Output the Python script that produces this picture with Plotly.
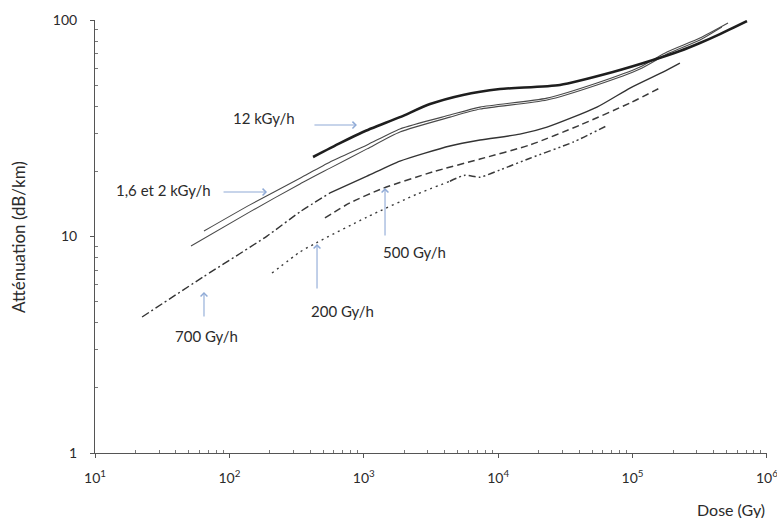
import plotly.graph_objects as go

# ---- data ----
dose_12k = [419, 665, 986, 1858, 3112, 5470, 10300, 28800, 71400, 142000, 225000, 317000, 447000, 710000]
att_12k = [23.3, 27.0, 30.4, 35.6, 40.9, 45.1, 48.0, 50.1, 57.5, 65.3, 71.9, 78.3, 86.1, 98.9]

dose_1k6 = [64.7, 142, 335, 561, 1057, 1858, 4375, 7330, 23070, 54300, 113500, 180300, 317000, 513000]
att_1k6 = [10.6, 14.0, 18.6, 22.1, 26.5, 31.4, 36.4, 39.6, 43.6, 51.2, 60.7, 71.2, 82.6, 96.9]

dose_2k = [51.8, 142, 335, 561, 1057, 1858, 4375, 7330, 23070, 54300, 113500, 180300, 317000, 462000]
att_2k = [9.04, 13.0, 17.5, 20.7, 25.4, 30.4, 35.6, 38.8, 42.7, 50.1, 59.4, 69.6, 80.9, 92.8]

dose_700 = [22.4, 63.7, 190.5, 335, 561, 1057, 1858, 4375, 7330, 14500, 23070, 54300, 95700, 168000, 225000]
att_700 = [4.25, 6.50, 10.05, 13.0, 15.9, 19.0, 22.3, 26.2, 27.9, 29.7, 32.0, 39.6, 48.5, 57.5, 63.3]

dose_500 = [514, 789, 1390, 3275, 7330, 17260, 40600, 95700, 165500]
att_500 = [12.2, 14.3, 16.7, 19.9, 22.8, 26.5, 32.7, 41.4, 49.1]

dose_200 = [207.5, 335, 440, 1057, 2490, 4375, 5660, 7330, 10300, 17260, 36100, 65600]
att_200 = [6.78, 8.48, 9.33, 12.3, 15.7, 18.0, 19.2, 18.8, 20.3, 23.0, 27.3, 32.7]

split_700 = 561    # dose where the 700 Gy/h curve turns from dash-dot to solid
split_200 = 4375   # dose where the 200 Gy/h curve turns from dotted to dash-dot-dot

x_tickvals = [10, 100, 1000, 10000, 100000, 1000000]
x_ticktext = ["10<sup>1</sup>", "10<sup>2</sup>", "10<sup>3</sup>", "10<sup>4</sup>", "10<sup>5</sup>", "10<sup>6</sup>"]
y_tickvals = [1, 10, 100]
y_ticktext = ["1", "10", "100"]

labels = ["12 kGy/h", "1,6 et 2 kGy/h", "700 Gy/h", "200 Gy/h", "500 Gy/h"]

FONT = "Lato, 'Open Sans', sans-serif"
TXT = "#2b2b2b"
ARROW = "#8faad6"


def seg(xs, ys, lo=None, hi=None):
    px, py = [], []
    for a, b in zip(xs, ys):
        if (lo is None or a >= lo) and (hi is None or a <= hi):
            px.append(a)
            py.append(b)
    return px, py


fig = go.Figure()

def add(xs, ys, color, width, dash):
    fig.add_trace(go.Scatter(x=xs, y=ys, mode="lines",
                             line=dict(color=color, width=width, dash=dash, shape="spline", smoothing=0.6),
                             hoverinfo="skip", showlegend=False))

add(dose_1k6, att_1k6, "#4a4a4a", 1.1, "solid")
add(dose_2k, att_2k, "#4a4a4a", 1.1, "solid")
add(dose_12k, att_12k, "#1e1e1e", 2.6, "solid")

xa, ya = seg(dose_700, att_700, hi=split_700)
add(xa, ya, "#333333", 1.4, "8px,3px,2px,3px")
xb, yb = seg(dose_700, att_700, lo=split_700)
add(xb, yb, "#333333", 1.4, "solid")

add(dose_500, att_500, "#3a3a3a", 1.5, "7px,4px")

xa, ya = seg(dose_200, att_200, hi=split_200)
add(xa, ya, "#3a3a3a", 1.4, "2px,4px")
xb, yb = seg(dose_200, att_200, lo=split_200)
add(xb, yb, "#3a3a3a", 1.5, "7px,3px,2px,3px,2px,3px")

# ---- text labels (log10 coordinates for log axes) ----
text_pos = [(2.257, 1.547), (1.506, 1.215), (1.833, 0.540), (2.838, 0.656), (3.381, 0.928)]
for t, (lx, ly) in zip(labels, text_pos):
    fig.add_annotation(x=lx, y=ly, xref="x", yref="y", text=t, showarrow=False,
                       font=dict(family=FONT, size=15, color=TXT))

# ---- blue arrows (tip, tail offset in px) ----
arrows = [((2.949, 1.515), (-44, 0)), ((2.280, 1.2055), (-45, 0)),
          ((1.811, 0.744), (0, 26)), ((2.652, 0.965), (0, 46)), ((3.158, 1.224), (0, 49))]
for (lx, ly), (ax, ay) in arrows:
    fig.add_annotation(x=lx, y=ly, xref="x", yref="y", text="", showarrow=True,
                       ax=ax, ay=ay, arrowhead=4, arrowsize=1.2, arrowwidth=1.1,
                       arrowcolor=ARROW, standoff=0)

# axis titles
fig.add_annotation(x=-0.114, y=0.5, xref="paper", yref="paper", text="Atténuation (dB/km)",
                   textangle=-90, xanchor="center", yanchor="middle", showarrow=False,
                   font=dict(family=FONT, size=17, color=TXT))
fig.add_annotation(x=1.0, y=-0.105, xref="paper", yref="paper", text="Dose (Gy)",
                   xanchor="right", yanchor="top", showarrow=False,
                   font=dict(family=FONT, size=16, color=TXT))

minor_x = [m * 10 ** e for e in range(1, 6) for m in range(2, 10)]
minor_y = [m * 10 ** e for e in range(0, 2) for m in range(2, 10)]

fig.update_xaxes(type="log", range=[1, 6.0002], tickvals=x_tickvals, ticktext=x_ticktext,
                 showgrid=False, zeroline=False, showline=True, linecolor="#555555",
                 linewidth=1, ticks="outside", ticklen=4, tickcolor="#555555",
                 ticklabelstandoff=8, ticklabeloverflow="allow", automargin=False,
                 tickfont=dict(family=FONT, size=14, color=TXT),
                 minor=dict(tickvals=minor_x, ticks="inside", ticklen=3, tickcolor="#777777"))
fig.update_yaxes(type="log", range=[0, 2.0002], tickvals=y_tickvals, ticktext=y_ticktext,
                 showgrid=False, zeroline=False, showline=True, linecolor="#555555",
                 linewidth=1, ticks="outside", ticklen=4, tickcolor="#555555",
                 ticklabelstandoff=10, ticklabeloverflow="allow", automargin=False,
                 tickfont=dict(family=FONT, size=14, color=TXT),
                 minor=dict(tickvals=minor_y, ticks="inside", ticklen=3, tickcolor="#777777"))

fig.update_layout(width=777, height=518, margin=dict(l=95, r=10, t=20, b=65),
                  plot_bgcolor="white", paper_bgcolor="white", showlegend=False)

fig.write_html("out.html", config={"displayModeBar": False},
               post_script="document.body.style.margin='0';document.body.style.padding='0';")
